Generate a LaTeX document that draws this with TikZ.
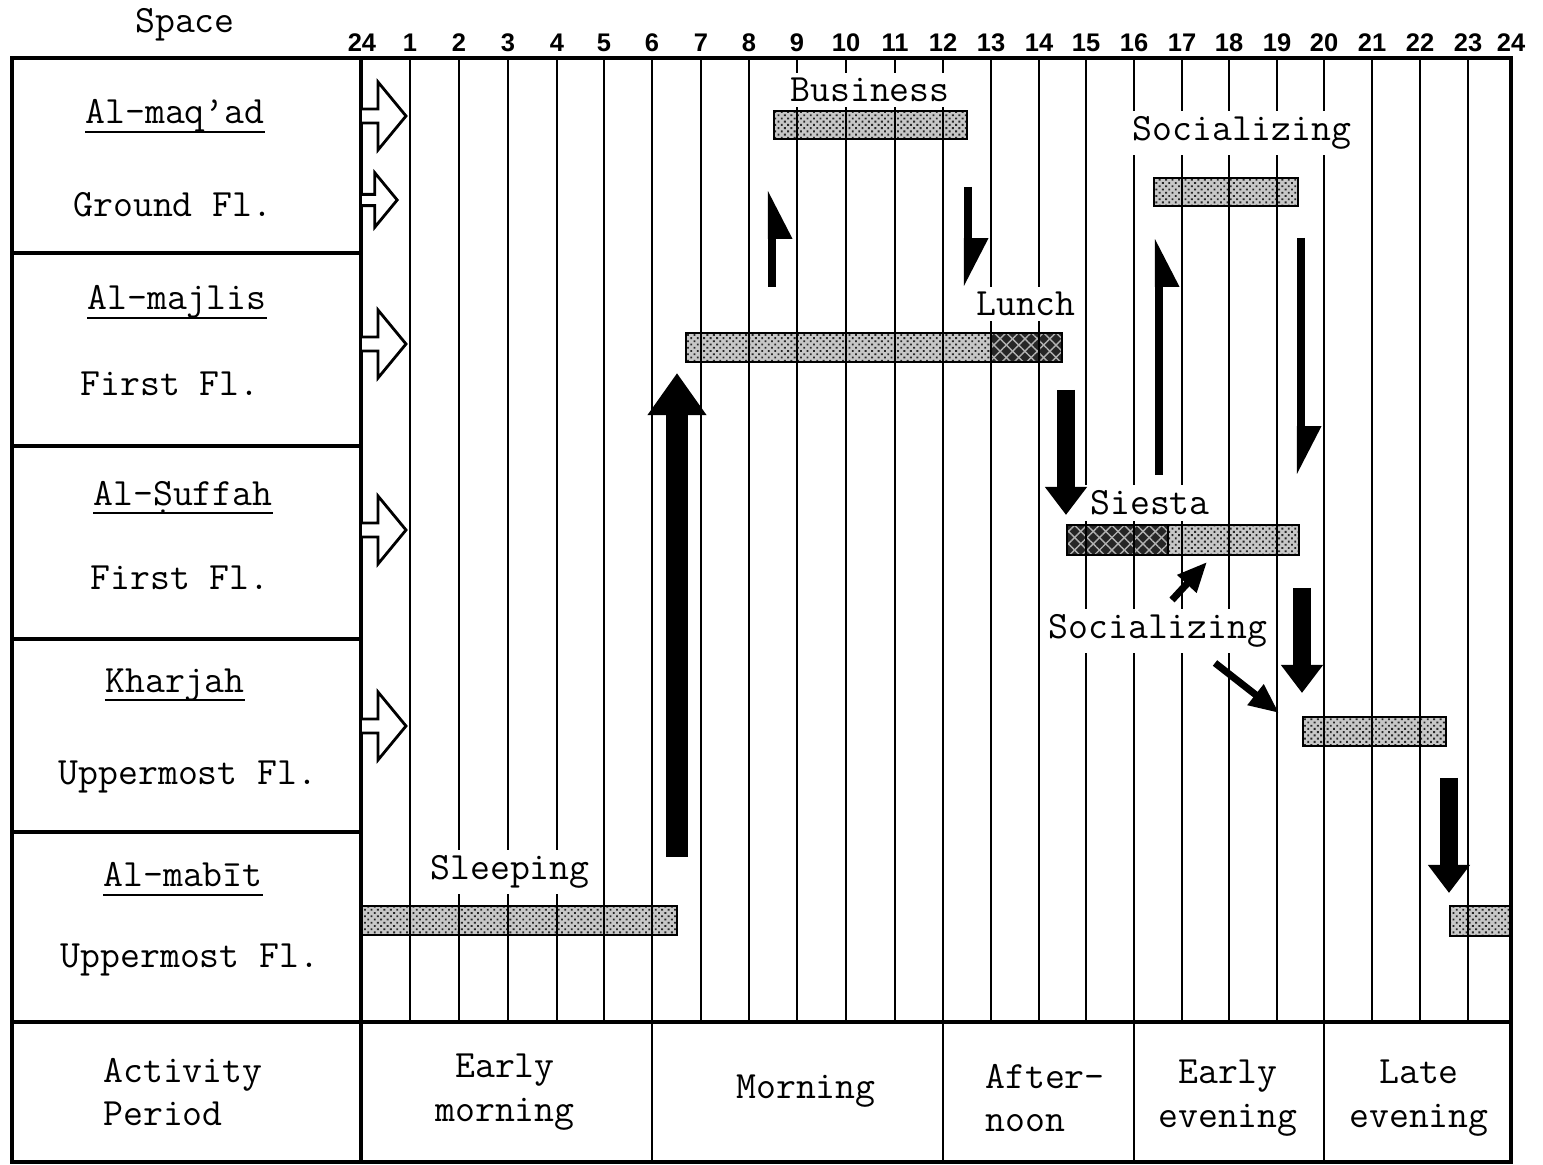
\documentclass[tikz,border=0pt]{standalone}
\usepackage{fontspec}
\newfontfamily\hourfont{Liberation Sans}
\usepackage{tikz}
\usetikzlibrary{arrows.meta, patterns.meta}
\tikzset{
  chartframe/.style={line width=1.8pt},
  hourline/.style={line width=0.7pt},
  cellline/.style={line width=1.2pt},
  lightbar/.style={draw, line width=1.4pt, preaction={fill=black!22}, pattern={Dots[distance=2.6pt, radius=0.75pt, angle=45]}, pattern color=black!85},
  darkbar/.style={draw, line width=1.4pt, preaction={fill=black!85}, preaction={pattern={Lines[angle=45, distance=5pt, line width=0.8pt]}, pattern color=black!30}, pattern={Lines[angle=-45, distance=5pt, line width=0.8pt]}, pattern color=black!30},
  typetext/.style={font=\ttfamily\fontsize{22}{25}\selectfont, inner sep=0pt},
  actlabel/.style={typetext, fill=white, inner sep=3pt},
  roomname/.style={typetext, append after command={([yshift=-4.5pt]\tikzlastnode.base west) edge[line width=1.1pt] ([yshift=-4.5pt]\tikzlastnode.base east)}},
  hournum/.style={font=\hourfont\bfseries\fontsize{14.5}{17}\selectfont, inner sep=0pt},
  fatarrow/.style={line width=10.8pt, -{Triangle[length=16pt, width=23pt]}},
  bigarrow/.style={line width=12.2pt, -{Triangle[length=24pt, width=32pt]}},
  halfup/.style={line width=4.6pt, -{Triangle[right, length=23pt, width=22pt]}},
  halfdown/.style={line width=4.6pt, -{Triangle[left, length=23pt, width=22pt]}},
  thinarrow/.style={line width=4pt, -{Triangle[length=17pt, width=14pt]}},
  openarrow/.pic={\draw[line width=1.6pt, fill=white, line join=miter] (0,-7) -- (16,-7) -- (16,-34) -- (44,0) -- (16,34) -- (16,7) -- (0,7);},
}

\begin{document}
\begin{tikzpicture}[x=0.02cm, y=-0.02cm]
\useasboundingbox (0,0) rectangle (1543,1165);

% activity bars
\draw[lightbar] (774,111) rectangle (967,139);
\draw[lightbar] (1154,178) rectangle (1298,206);
\draw[lightbar] (686,333) rectangle (991,362);
\draw[darkbar] (991,333) rectangle (1062,362);
\draw[darkbar] (1067,525) rectangle (1168,555);
\draw[lightbar] (1168,525) rectangle (1299,555);
\draw[lightbar] (1303,717) rectangle (1446,746);
\draw[lightbar] (362,906) rectangle (677,935);
\draw[lightbar] (1450,906) rectangle (1510,936);

% hours
\foreach \h/\x/\lbl in {0/362/24, 1/410/1, 2/459/2, 3/508/3, 4/557/4, 5/604/5, 6/652/6, 7/701/7, 8/749/8, 9/797/9, 10/846/10, 11/895/11, 12/943/12, 13/991/13, 14/1039/14, 15/1086/15, 16/1134/16, 17/1182/17, 18/1229/18, 19/1277/19, 20/1324/20, 21/1372/21, 22/1420/22, 23/1468/23, 24/1511/24} {
  \coordinate (top\h) at (\x,58);
  \coordinate (bot\h) at (\x,1022);
  \node[hournum] (hr\h) at (\x,43) {\lbl};
}
\foreach \h in {1,...,23}
  \draw[hourline] (top\h) -- (bot\h);

% frame
\draw[chartframe] (12,58) rectangle (1511,1162);
\draw[chartframe] (12,1022) -- (1511,1022);
\draw[chartframe] (361,58) -- (361,1162);
\foreach \y in {253,446,639,832}
  \draw[chartframe] (12,\y) -- (361,\y);
\foreach \h in {6,12,16,20}
  \draw[cellline] (bot\h) -- ++(0,140);

\node[typetext] (space) at (185,25) {Space};

% rooms
\node[roomname] (maqad) at (175,116) {Al-maq’ad};
\node[typetext] (maqadfl) at (173,205) {Ground Fl.};
\node[roomname] (majlis) at (177,302) {Al-majlis};
\node[typetext] (majlisfl) at (170,384) {First Fl.};
\node[roomname] (suffah) at (183,497) {Al-Ṣuffah};
\node[typetext] (suffahfl) at (180,578) {First Fl.};
\node[roomname] (kharjah) at (175,685) {Kharjah};
\node[typetext] (kharjahfl) at (188,777) {Uppermost Fl.};
\node[roomname] (mabit) at (183,875) {Al-mabīt};
\node[typetext] (mabitfl) at (190,960) {Uppermost Fl.};

\pic at (362,116) {openarrow};
\pic[scale=0.8] at (362,200) {openarrow};
\pic at (362,344) {openarrow};
\pic at (362,530) {openarrow};
\pic at (362,726) {openarrow};

% activity names
\node[actlabel] (business) at (870,90) {Business};
\node[actlabel] (social1) at (1242,133) {Socializing};
\node[actlabel] (lunch) at (1026,304) {Lunch};
\node[actlabel] (siesta) at (1150,503) {Siesta};
\node[actlabel] (social2) at (1158,631) {Socializing};
\node[actlabel] (sleeping) at (510,872) {Sleeping};

% periods
\node[typetext, align=left, anchor=west] (period) at (103,1092) {Activity\\Period};
\node[typetext, align=center] (earlymorn) at (505,1092) {Early\\morning};
\node[typetext] (morning) at (806,1091) {Morning};
\node[typetext, align=left, anchor=west] (afternoon) at (985,1098) {After-\\noon};
\node[typetext, align=center] (earlyeve) at (1228,1098) {Early\\evening};
\node[typetext, align=center] (lateeve) at (1419,1098) {Late\\evening};

% moves between rooms
\coordinate (wakeS) at (677,857);
\coordinate (wakeE) at (677,373);
\coordinate (bizupS) at (772,287);
\coordinate (bizupE) at (772,190);
\coordinate (bizdnS) at (968,187);
\coordinate (bizdnE) at (968,287);
\coordinate (lunchS) at (1066,390);
\coordinate (lunchE) at (1066,515);
\coordinate (socupS) at (1159,475);
\coordinate (socupE) at (1159,238);
\coordinate (socdnS) at (1301,238);
\coordinate (socdnE) at (1301,475);
\coordinate (eveS) at (1302,588);
\coordinate (eveE) at (1302,693);
\coordinate (diagAS) at (1172,600);
\coordinate (diagAE) at (1207,562);
\coordinate (diagBS) at (1215,663);
\coordinate (diagBE) at (1279,713);
\coordinate (bedS) at (1449,778);
\coordinate (bedE) at (1449,893);

\draw[bigarrow] (wakeS) -- (wakeE);
\draw[halfup] (bizupS) -- (bizupE);
\draw[halfdown] (bizdnS) -- (bizdnE);
\draw[fatarrow] (lunchS) -- (lunchE);
\draw[halfup] (socupS) -- (socupE);
\draw[halfdown] (socdnS) -- (socdnE);
\draw[fatarrow] (eveS) -- (eveE);
\draw[thinarrow] (diagAS) -- (diagAE);
\draw[thinarrow] (diagBS) -- (diagBE);
\draw[fatarrow] (bedS) -- (bedE);
\end{tikzpicture}
\end{document}
